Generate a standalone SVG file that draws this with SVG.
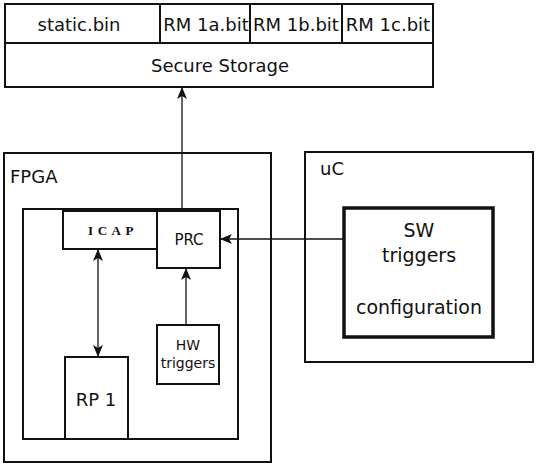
<svg xmlns="http://www.w3.org/2000/svg" width="539" height="466" viewBox="0 0 539 466">
<style>
.b{fill:#fff;stroke:#111;stroke-width:2}
.t{font-family:"DejaVu Sans",Verdana,sans-serif;font-size:18px;fill:#111;text-anchor:middle}
.c{stroke:#111;stroke-width:1.3;fill:none}
</style>
<defs>
<marker id="ah" viewBox="0 0 12 12" refX="11" refY="6" markerWidth="12" markerHeight="12" markerUnits="userSpaceOnUse" orient="auto-start-reverse">
<path d="M0,1 L12,6 L0,11 L3,6 Z" fill="#111"/>
</marker>
</defs>
<rect width="539" height="466" fill="#fff"/>
<g id="storage">
<rect class="b" x="5" y="4" width="428" height="39"/>
<line x1="160" y1="4" x2="160" y2="43" stroke="#111" stroke-width="2"/>
<line x1="250" y1="4" x2="250" y2="43" stroke="#111" stroke-width="2"/>
<line x1="342" y1="4" x2="342" y2="43" stroke="#111" stroke-width="2"/>
<text class="t" x="79" y="31">static.bin</text>
<text class="t" x="206" y="31">RM 1a.bit</text>
<text class="t" x="296" y="31">RM 1b.bit</text>
<text class="t" x="388" y="31">RM 1c.bit</text>
<rect class="b" x="5" y="43" width="428" height="44"/>
<text class="t" x="220" y="72">Secure Storage</text>
</g>
<g id="fpga">
<rect class="b" x="4" y="153" width="267" height="309"/>
<text class="t" x="10" y="183" style="text-anchor:start">FPGA</text>
<rect class="b" x="23" y="209" width="215" height="230"/>
</g>
<g id="icap">
<rect class="b" x="63" y="211" width="94" height="38"/>
<text class="t" x="113" y="235" style="font-size:13px;font-weight:bold;letter-spacing:4.5px;font-family:'Liberation Serif',serif">ICAP</text>
</g>
<g id="prc">
<rect class="b" x="157" y="211" width="63" height="57"/>
<text class="t" x="189" y="245" style="font-size:15px">PRC</text>
</g>
<g id="rp1">
<rect class="b" x="65" y="357" width="63" height="82"/>
<text class="t" x="96" y="406">RP 1</text>
</g>
<g id="hw">
<rect class="b" x="157" y="325" width="62" height="59"/>
<text class="t" x="188" y="350" style="font-size:14px">HW</text>
<text class="t" x="188" y="368" style="font-size:14px">triggers</text>
</g>
<g id="uc">
<rect class="b" x="305" y="152" width="228" height="210"/>
<text class="t" x="320" y="175" style="text-anchor:start">uC</text>
</g>
<g id="sw">
<rect x="344" y="208" width="149" height="129" fill="#fff" stroke="#111" stroke-width="3.5"/>
<text class="t" x="419" y="237" style="font-size:19px">SW</text>
<text class="t" x="419" y="262" style="font-size:19px">triggers</text>
<text class="t" x="419" y="314" style="font-size:19px">configuration</text>
</g>
<g id="connectors">
<line class="c" x1="182" y1="211" x2="182" y2="88" marker-end="url(#ah)"/>
<line class="c" x1="98" y1="250" x2="98" y2="356" marker-start="url(#ah)" marker-end="url(#ah)"/>
<line class="c" x1="186" y1="325" x2="186" y2="269" marker-end="url(#ah)"/>
<line class="c" x1="344" y1="239" x2="221" y2="239" marker-end="url(#ah)"/>
</g>
</svg>
